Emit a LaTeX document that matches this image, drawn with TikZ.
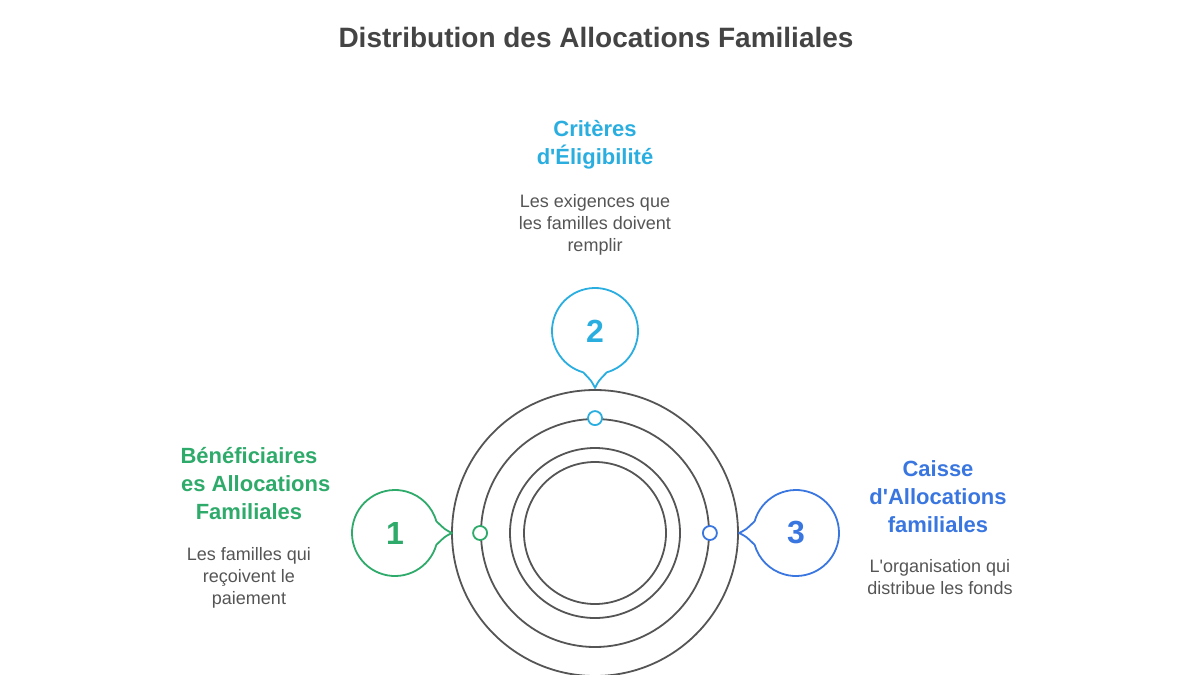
\documentclass[tikz,border=0pt]{standalone}
\usepackage{fontspec}
\setmainfont{Liberation Sans}
\usetikzlibrary{calc}
\definecolor{vert}{HTML}{2EAA6A}
\definecolor{ciel}{HTML}{2AAEE0}
\definecolor{bleu}{HTML}{3A76E0}
\definecolor{gris}{HTML}{555555}
\definecolor{titregris}{HTML}{444444}
\begin{document}
\begin{tikzpicture}[x=1pt, y=-1pt, line join=round, line cap=round,
		titre/.style={font=\bfseries\fontsize{22}{28}\selectfont, align=center},
		texte/.style={font=\fontsize{18}{22}\selectfont, text=gris, align=center},
		chiffre/.style={font=\bfseries\fontsize{32}{32}\selectfont}]
	\def\rb{43} \def\pointe{57}
	\useasboundingbox (0,0) rectangle (1200,675);
	%\draw[gray!30] (0,0) grid[step=50] (1200,675);
	\node[font=\bfseries\fontsize{28}{30}\selectfont, text=titregris] (titre) at (596,37) {Distribution des Allocations Familiales};
	% anneaux
	\foreach \r/\nom in {143/a,114/b,85/c,71/d}
		\node[circle, draw=gris, line width=1.8pt, inner sep=0, minimum size=2*\r] (anneau\nom) at (595,533) {};
	\foreach \pos/\coul/\i in {west/vert/1, north/ciel/2, east/bleu/3}
		\node[circle, draw=\coul, fill=white, line width=1.8pt, inner sep=0, minimum size=14] (point\i) at (anneaub.\pos) {};
	% bulles
	\node[chiffre, text=vert] (num1) at (395,533) {1};
	\node[chiffre, text=ciel] (num2) at (595,331) {2};
	\node[chiffre, text=bleu] (num3) at (796,533) {3};
	\foreach \n/\a/\coul in {num1/0/vert, num2/90/ciel, num3/180/bleu}
		\draw[\coul, line width=1.8pt] ($(\n)+(\a+16:\rb)$) arc[start angle=\a+16, end angle=\a+344, radius=\rb]
			.. controls ($(\n)+(\a-4:\rb+7)$) .. ($(\n)+(\a:\pointe)$)
			.. controls ($(\n)+(\a+4:\rb+7)$) .. cycle;
	% textes
	\begin{scope}
		\clip (181.5,0) rectangle (1200,675);
		\node[titre, text=vert] (tit1) at (249,484) {Bénéficiaires\\des Allocations\\Familiales};
	\end{scope}
	\node[texte] (desc1) at (249,578) {Les familles qui\\reçoivent le\\paiement};
	\node[titre, text=ciel] (tit2) at (595,145) {Critères\\d\textquotesingle Éligibilité};
	\node[texte] (desc2) at (595,225) {Les exigences que\\les familles doivent\\remplir};
	\node[titre, text=bleu] (tit3) at (938,497) {Caisse\\d\textquotesingle Allocations\\familiales};
	\node[texte] (desc3) at (940,577) {L\textquotesingle organisation qui\\distribue les fonds};
\end{tikzpicture}
\end{document}
